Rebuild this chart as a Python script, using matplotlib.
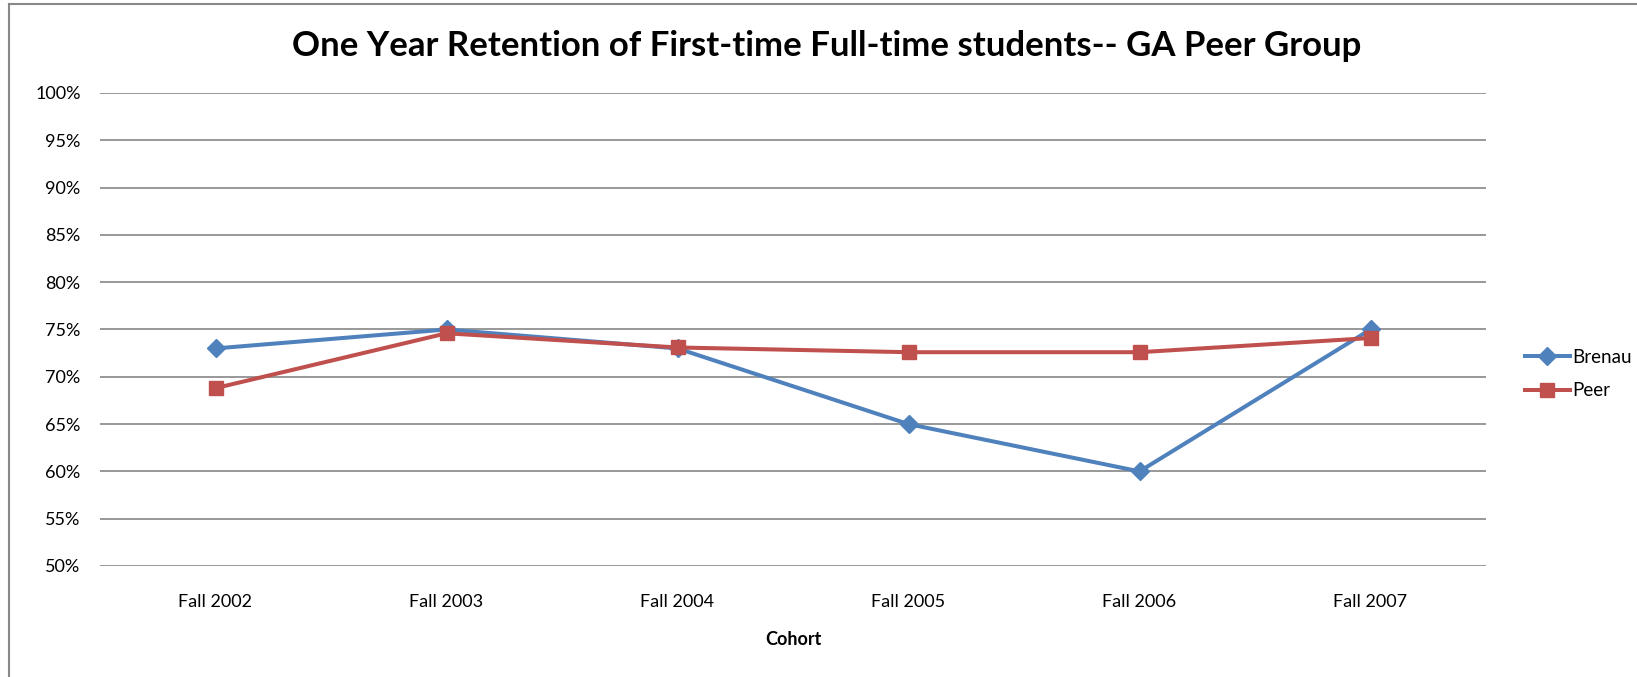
import matplotlib
matplotlib.use("Agg")
import matplotlib.pyplot as plt
from matplotlib.lines import Line2D
from matplotlib.ticker import FuncFormatter

categories = ["Fall 2002", "Fall 2003", "Fall 2004", "Fall 2005", "Fall 2006", "Fall 2007"]
brenau = [73.0, 75.0, 73.0, 65.0, 60.0, 75.0]
peer = [68.8, 74.6, 73.1, 72.6, 72.6, 74.1]
yticks = [50, 55, 60, 65, 70, 75, 80, 85, 90, 95, 100]

plt.rcParams['font.family'] = ['Lato', 'DejaVu Sans']

W, H = 1637, 677
fig = plt.figure(figsize=(W / 100, H / 100), dpi=100)
ax = fig.add_axes([100 / W, 1 - 566 / H, 1386 / W, (566 - 93) / H])

x = list(range(len(categories)))
ax.plot(x, brenau, color="#4F81BD", lw=2.9, marker="D", markersize=9.5, label="Brenau", zorder=3)
ax.plot(x, peer, color="#C0504D", lw=2.9, marker="s", markersize=10.5, label="Peer", zorder=3)

ax.set_xlim(-0.5, len(categories) - 0.5)
ax.set_ylim(50, 100)
ax.set_yticks(yticks)
ax.yaxis.set_major_formatter(FuncFormatter(lambda v, p: f"{int(v)}%"))
ax.set_xticks(x)
ax.set_xticklabels(categories)
ax.tick_params(axis="both", length=0, labelsize=13, colors="black")
ax.tick_params(axis="y", pad=14)
ax.tick_params(axis="x", pad=20)
ax.grid(axis="y", color="#868686", lw=1.2)
ax.set_axisbelow(True)
for s in ax.spines.values():
    s.set_visible(False)

ax.set_xlabel("Cohort", fontsize=13, fontweight="bold", labelpad=15)

fig.text(827 / W, 1 - 46 / H, "One Year Retention of First-time Full-time students-- GA Peer Group",
         ha="center", va="center", fontsize=25, fontweight="bold")

fig.legend(loc="center left", bbox_to_anchor=(1508 / W, 1 - 374 / H), frameon=False,
           fontsize=13.5, handlelength=2.4, handletextpad=0.1, labelspacing=0.9)

fig.add_artist(Line2D([9 / W, 9 / W], [0, 1 - 4 / H], color="#888888", lw=1.5))
fig.add_artist(Line2D([9 / W, 1], [1 - 4 / H, 1 - 4 / H], color="#888888", lw=1.5))

fig.savefig("out.png", dpi=100)
